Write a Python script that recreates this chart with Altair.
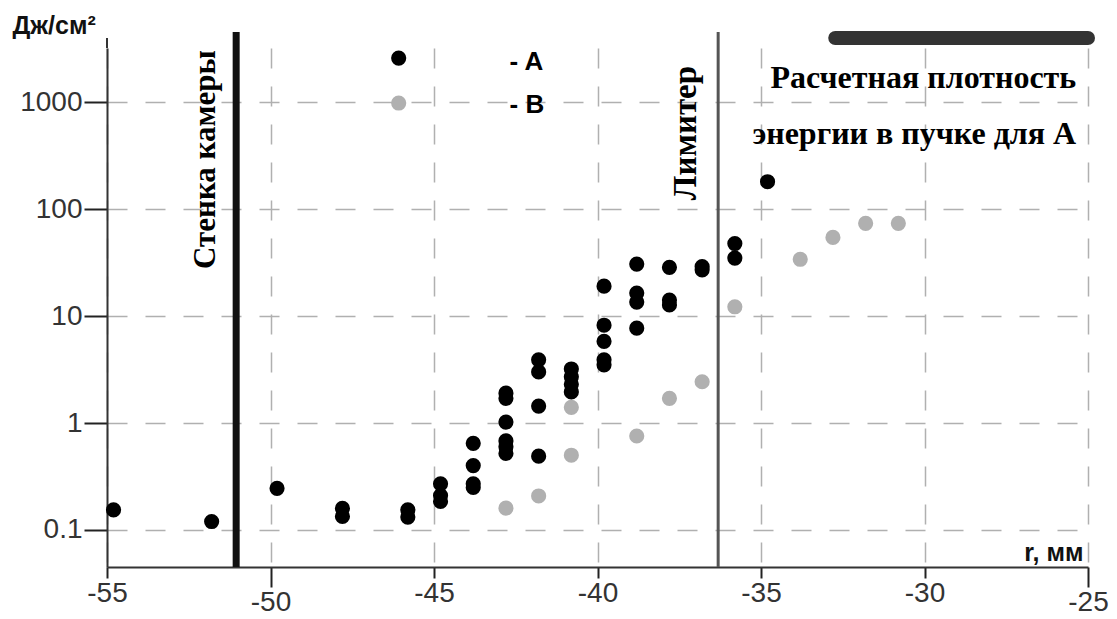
import altair as alt
import pandas as pd

# ---- data ----
a_r = [-54.8, -51.8, -49.8, -47.8, -47.8, -45.8, -45.8,
       -44.8, -44.8, -44.8,
       -43.8, -43.8, -43.8, -43.8,
       -42.8, -42.8, -42.8, -42.8, -42.8, -42.8,
       -41.8, -41.8, -41.8, -41.8,
       -40.8, -40.8, -40.8, -40.8,
       -39.8, -39.8, -39.8, -39.8, -39.8,
       -38.8, -38.8, -38.8, -38.8,
       -37.8, -37.8, -37.8,
       -36.8, -36.8,
       -35.8, -35.8,
       -34.8]
a_e = [0.154, 0.12, 0.245, 0.159, 0.134, 0.154, 0.132,
       0.27, 0.21, 0.185,
       0.646, 0.40, 0.27, 0.25,
       1.9, 1.7, 1.02, 0.68, 0.6, 0.52,
       3.9, 3.0, 1.44, 0.49,
       3.2, 2.7, 2.3, 1.95,
       19.0, 8.2, 5.8, 3.9, 3.5,
       30.6, 16.4, 13.5, 7.7,
       28.5, 14.1, 12.7,
       29.0, 27.0,
       47.6, 34.8,
       180.0]
b_r = [-42.8, -41.8, -40.8, -40.8, -38.8, -37.8, -36.8, -35.8,
       -33.8, -32.8, -31.8, -30.8]
b_e = [0.16, 0.208, 1.4, 0.5, 0.756, 1.70, 2.43, 12.2,
       33.9, 54.3, 73.5, 73.5]

series_names = ["A", "B"]
series_colors = ["#000000", "#b0b0b0"]

x_ticks = [-55, -50, -45, -40, -35, -30, -25]
y_ticks = [0.1, 1, 10, 100, 1000]

# annotation anchors (data coordinates)
wall_r = -51.05
limiter_r = -36.31
beam_r = [-32.73, -25.0]
beam_e = 3963

X_DOM = [-55, -25]
Y_DOM = [0.0451, 3199]

df = pd.DataFrame({
    "r": b_r + a_r,
    "e": b_e + a_e,
    "s": ["B"] * len(b_r) + ["A"] * len(a_r),
})

xs = alt.Scale(domain=X_DOM, nice=False, zero=False)
ys = alt.Scale(type="log", domain=Y_DOM, nice=False)

grid_style = dict(grid=True, gridDash=[20, 18], gridColor="#b0b0b0", gridWidth=1.5,
                  domainColor="#333333", domainWidth=2, tickColor="#222222", tickWidth=2,
                  labelFont="Liberation Sans", labelColor="#333333", labelFontSize=28)

xaxis = alt.Axis(values=x_ticks, labelExpr="'' + datum.value",
                 tickSize={"condition": {"test": "datum.value == -50 || datum.value == -25", "value": 20}, "value": 11},
                 labelPadding=1,
                 labelFlush=False, labelOverlap=False,
                 title="r, мм", titleFont="Liberation Sans", titleFontWeight="bold", titleFontSize=25,
                 titleColor="#111111", titleX=976, titleY=-7, titleAlign="right", titleBaseline="alphabetic",
                 **grid_style)
yaxis = alt.Axis(values=y_ticks, format="~g", tickSize=23, labelPadding=2, labelOverlap=False,
                 title="Дж/см²", titleAngle=0, titleFont="Liberation Sans", titleFontWeight="bold",
                 titleFontSize=25, titleColor="#111111", titleAlign="left", titleBaseline="alphabetic",
                 titleX=-95, titleY=-15, **grid_style)

def X(f):
    return alt.X(f, type="quantitative", scale=xs, axis=xaxis)

def Y(f):
    return alt.Y(f, type="quantitative", scale=ys, axis=yaxis)

points = alt.Chart(df).mark_circle(size=230, opacity=1).encode(
    x=X("r"), y=Y("e"),
    color=alt.Color("s:N", scale=alt.Scale(domain=series_names, range=series_colors), legend=None),
)

# vertical marker lines
wall = alt.Chart(pd.DataFrame({"r": [wall_r], "e": [Y_DOM[0]], "e2": [4508]})).mark_rule(
    color="#111111", strokeWidth=7).encode(x=X("r"), y=Y("e"), y2="e2")
limiter = alt.Chart(pd.DataFrame({"r": [limiter_r], "e": [Y_DOM[0]], "e2": [4508]})).mark_rule(
    color="#555555", strokeWidth=3).encode(x=X("r"), y=Y("e"), y2="e2")
yext = alt.Chart(pd.DataFrame({"r": [X_DOM[0]], "e": [Y_DOM[1]], "e2": [3963]})).mark_rule(
    color="#333333", strokeWidth=2).encode(x=X("r"), y=Y("e"), y2="e2")
beam = alt.Chart(pd.DataFrame({"r": [beam_r[0]], "r2": [beam_r[1]], "e": [beam_e]})).mark_rule(
    color="#333333", strokeWidth=14, strokeCap="round").encode(x=X("r"), x2="r2", y=Y("e"))

serif = "Liberation Serif"
wall_txt = alt.Chart(pd.DataFrame({"r": [-51.70], "e": [290], "t": ["Стенка камеры"]})).mark_text(
    angle=270, align="center", baseline="alphabetic", font=serif, fontWeight="bold", fontSize=31,
    color="#000000").encode(x=X("r"), y=Y("e"), text="t:N")
lim_txt = alt.Chart(pd.DataFrame({"r": [-37.0], "e": [513], "t": ["Лимитер"]})).mark_text(
    angle=270, align="center", baseline="alphabetic", font=serif, fontWeight="bold", fontSize=33,
    color="#000000").encode(x=X("r"), y=Y("e"), text="t:N")
beam_txt = alt.Chart(pd.DataFrame({"r": [-25.36, -25.36], "e": [1343, 404],
                                   "t": ["Расчетная плотность", "энергии в пучке для А"]})).mark_text(
    align="right", baseline="alphabetic", font=serif, fontWeight="bold", fontSize=32,
    color="#000000").encode(x=X("r"), y=Y("e"), text="t:N")

# legend drawn inside the plot
leg_pts = alt.Chart(pd.DataFrame({"r": [-46.08, -46.08], "e": [2577, 979], "s": series_names})).mark_circle(
    size=230, opacity=1).encode(
    x=X("r"), y=Y("e"),
    color=alt.Color("s:N", scale=alt.Scale(domain=series_names, range=series_colors), legend=None))
leg_txt = alt.Chart(pd.DataFrame({"r": [-42.69, -42.69], "e": [1990, 789], "t": ["- A", "- B"]})).mark_text(
    align="left", baseline="alphabetic", font="Liberation Sans", fontWeight="bold", fontSize=26,
    color="#000000").encode(x=X("r"), y=Y("e"), text="t:N")

chart = alt.layer(points, wall, limiter, yext, beam, wall_txt, lim_txt, beam_txt, leg_pts, leg_txt).properties(
    width=981, height=519,
    autosize=alt.AutoSizeParams(type="none"),
    padding={"left": 99, "top": 40, "right": 21, "bottom": 51},
    background="white",
).configure_view(stroke=None)

chart.save("out.html", embed_options={"renderer": "svg", "actions": False})
